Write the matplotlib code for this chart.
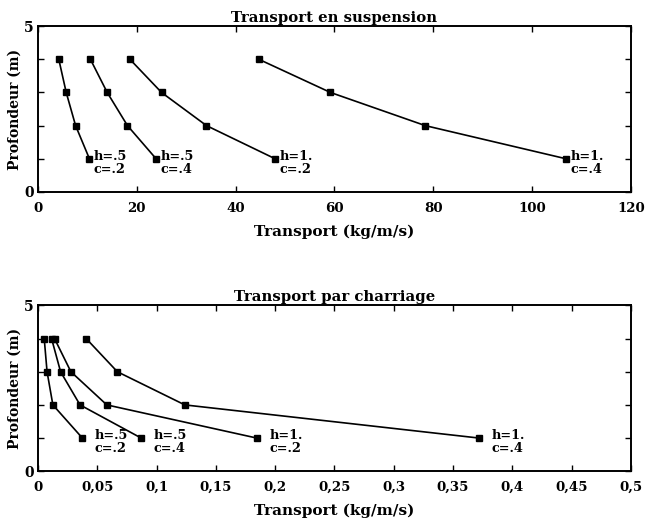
import numpy as np
import matplotlib
matplotlib.use('Agg')
import matplotlib.pyplot as plt

plt.rcParams['font.family'] = ['DejaVu Serif']
plt.rcParams['font.weight'] = 'bold'

# depths (m)
depth = [4, 3, 2, 1]

# suspension transport (kg/m/s)
susp_h05_c02 = [4.2, 5.7, 7.6, 10.4]
susp_h05_c04 = [10.6, 14.0, 18.1, 23.9]
susp_h1_c02 = [18.6, 25.0, 34.1, 48.0]
susp_h1_c04 = [44.7, 59.2, 78.4, 106.9]

# bedload transport (kg/m/s)
char_h05_c02 = [0.0052, 0.0076, 0.0125, 0.0374]
char_h05_c04 = [0.0114, 0.019, 0.0354, 0.087]
char_h1_c02 = [0.0139, 0.0277, 0.058, 0.1845]
char_h1_c04 = [0.0406, 0.0669, 0.1238, 0.372]

labels = ['h=.5\nc=.2', 'h=.5\nc=.4', 'h=1.\nc=.2', 'h=1.\nc=.4']

susp = [susp_h05_c02, susp_h05_c04, susp_h1_c02, susp_h1_c04]
char = [char_h05_c02, char_h05_c04, char_h1_c02, char_h1_c04]

xticks_susp = [0, 20, 40, 60, 80, 100, 120]
xticks_char = [0, 0.05, 0.1, 0.15, 0.2, 0.25, 0.3, 0.35, 0.4, 0.45, 0.5]
xticklabels_char = ['0', '0,05', '0,1', '0,15', '0,2', '0,25', '0,3', '0,35', '0,4', '0,45', '0,5']

fig = plt.figure(figsize=(6.45, 5.23), dpi=100)
ax1 = fig.add_axes([0.059, 0.633, 0.919, 0.317])
ax2 = fig.add_axes([0.059, 0.099, 0.919, 0.317])


def style(ax, title, xlim, xticks, xticklabels):
    ax.set_xlim(xlim)
    ax.set_ylim(0, 5)
    ax.set_xticks(xticks)
    ax.set_xticklabels(xticklabels, fontsize=9.6, fontweight='bold')
    ax.set_yticks([0, 5])
    ax.set_yticklabels(['0', '5'], fontsize=10, fontweight='bold')
    ax.set_yticks([1, 2, 3, 4], minor=True)
    ax.tick_params(which='both', direction='in', top=True, right=True,
                   length=4, width=1)
    ax.tick_params(axis='x', pad=7)
    ax.tick_params(axis='y', pad=3)
    for s in ax.spines.values():
        s.set_linewidth(1.4)
    ax.set_title(title, fontsize=10.7, fontweight='bold', pad=3)
    ax.set_xlabel('Transport (kg/m/s)', fontsize=11, fontweight='bold', labelpad=7)
    ax.set_ylabel('Profondeur (m)', fontsize=10, fontweight='bold', labelpad=2)


for ax, data in [(ax1, susp), (ax2, char)]:
    for xs in data:
        ax.plot(xs, depth, color='black', lw=1.2, marker='s', ms=3.8)

style(ax1, 'Transport en suspension', (0, 120), xticks_susp,
      [str(t) for t in xticks_susp])
style(ax2, 'Transport par charriage', (0, 0.5), xticks_char, xticklabels_char)

for xs, lab in zip(susp, labels):
    ax1.annotate(lab, (xs[-1], depth[-1]), xytext=(3, 6.5), textcoords='offset points',
                 ha='left', va='top', fontsize=9.3, fontweight='bold', linespacing=1.0)
for xs, lab in zip(char, labels):
    ax2.annotate(lab, (xs[-1], depth[-1]), xytext=(9, 6.5), textcoords='offset points',
                 ha='left', va='top', fontsize=9.3, fontweight='bold', linespacing=1.0)

fig.savefig('out.png', dpi=100)
